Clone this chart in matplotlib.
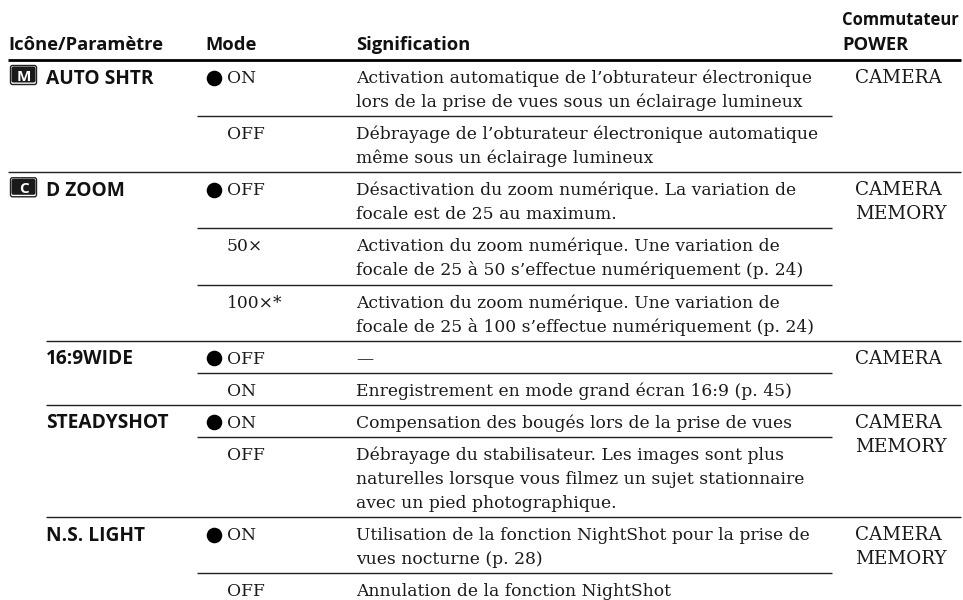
# -*- coding: utf-8 -*-
import matplotlib
matplotlib.use('Agg')
import matplotlib.pyplot as plt
from matplotlib.patches import FancyBboxPatch

SERIF = 'DejaVu Serif'
SANS = 'Open Sans'

headers = ['Icône/Paramètre', 'Mode', 'Signification']
power_header = ['Commutateur', 'POWER']

params = ['AUTO SHTR', '', 'D ZOOM', '', '', '16:9WIDE', '', 'STEADYSHOT', '', 'N.S. LIGHT', '']
icons = ['M', '', 'C', '', '', '', '', '', '', '', '']
modes = ['ON', 'OFF', 'OFF', '50×', '100×*', 'OFF', 'ON', 'ON', 'OFF', 'ON', 'OFF']
defaults = [True, False, True, False, False, True, False, True, False, True, False]
descriptions = [
    ['Activation automatique de l’obturateur électronique',
     'lors de la prise de vues sous un éclairage lumineux'],
    ['Débrayage de l’obturateur électronique automatique',
     'même sous un éclairage lumineux'],
    ['Désactivation du zoom numérique. La variation de',
     'focale est de 25 au maximum.'],
    ['Activation du zoom numérique. Une variation de',
     'focale de 25 à 50 s’effectue numériquement (p. 24)'],
    ['Activation du zoom numérique. Une variation de',
     'focale de 25 à 100 s’effectue numériquement (p. 24)'],
    ['—'],
    ['Enregistrement en mode grand écran 16:9 (p. 45)'],
    ['Compensation des bougés lors de la prise de vues'],
    ['Débrayage du stabilisateur. Les images sont plus',
     'naturelles lorsque vous filmez un sujet stationnaire',
     'avec un pied photographique.'],
    ['Utilisation de la fonction NightShot pour la prise de',
     'vues nocturne (p. 28)'],
    ['Annulation de la fonction NightShot'],
]
power = [['CAMERA'], [], ['CAMERA', 'MEMORY'], [], [], ['CAMERA'], [],
         ['CAMERA', 'MEMORY'], [], ['CAMERA', 'MEMORY'], []]

X_PARAM, X_BULLET, X_MODE_TXT, X_DESC, X_POWER = 46, 214, 226.5, 356, 855
SERIF_SIZE = 12.35
POWER_SIZE = 13.2
SANS_SIZE = 13.2
PARAM_SIZE = 13.8

fig = plt.figure(figsize=(9.63, 6.0), dpi=100)
ax = fig.add_axes([0, 0, 1, 1])
ax.set_xlim(0, 963)
ax.set_ylim(600, 0)
ax.axis('off')


def serif(x, y, s, size=SERIF_SIZE):
    ax.text(x, y, s, family=SERIF, fontsize=size, color='#1a1a1a', va='baseline')


def bold(x, y, s, size=SANS_SIZE):
    ax.text(x, y, s, family=SANS, fontsize=size, weight='bold', color='#111111', va='baseline')


def draw_icon(y, letter):
    ax.add_patch(FancyBboxPatch((10.5, y + 5.5), 26, 19, boxstyle='round,pad=0,rounding_size=2',
                                fc='white', ec='#222222', lw=1.0))
    ax.add_patch(FancyBboxPatch((11.5, y + 6.5), 24, 16, boxstyle='round,pad=0,rounding_size=2',
                                fc='#1a1a1a', ec='none'))
    ax.text(23.5, y + 21, letter, family=SANS, fontsize=11, weight='bold', color='white',
            ha='center', va='baseline')


# header
bold(8, 50, headers[0])
bold(205, 50, headers[1])
bold(356, 50, headers[2])
bold(842, 25, power_header[0], size=11.9)
bold(842, 50, power_header[1])
ax.plot([8, 961], [60, 60], color='black', lw=2.0, solid_capstyle='butt')

y = 60.0
for i in range(len(modes)):
    if params[i]:
        bold(X_PARAM, y + 23.5, params[i], size=PARAM_SIZE)
    if icons[i]:
        draw_icon(y, icons[i])
    if defaults[i]:
        ax.plot([X_BULLET], [y + 17.5], marker='o', ms=11.2, color='black', mec='none')
    serif(X_MODE_TXT, y + 23, modes[i])
    for k, line in enumerate(descriptions[i]):
        serif(X_DESC, y + 23 + 24 * k, line)
    for k, line in enumerate(power[i]):
        serif(X_POWER, y + 23 + 24 * k, line, size=POWER_SIZE)

    y += (24 * len(descriptions[i]) + 8) * 1.0025
    if y > 580:
        continue
    # rule below the row: full width at a new parameter, else only up to the description
    if i + 1 < len(params) and params[i + 1]:
        x0 = 8 if icons[i + 1] else 46
        ax.plot([x0, 961], [y, y], color='#222222', lw=1.0, solid_capstyle='butt')
    else:
        ax.plot([197, 832], [y, y], color='#222222', lw=1.0, solid_capstyle='butt')

fig.savefig('out.png', dpi=100)
